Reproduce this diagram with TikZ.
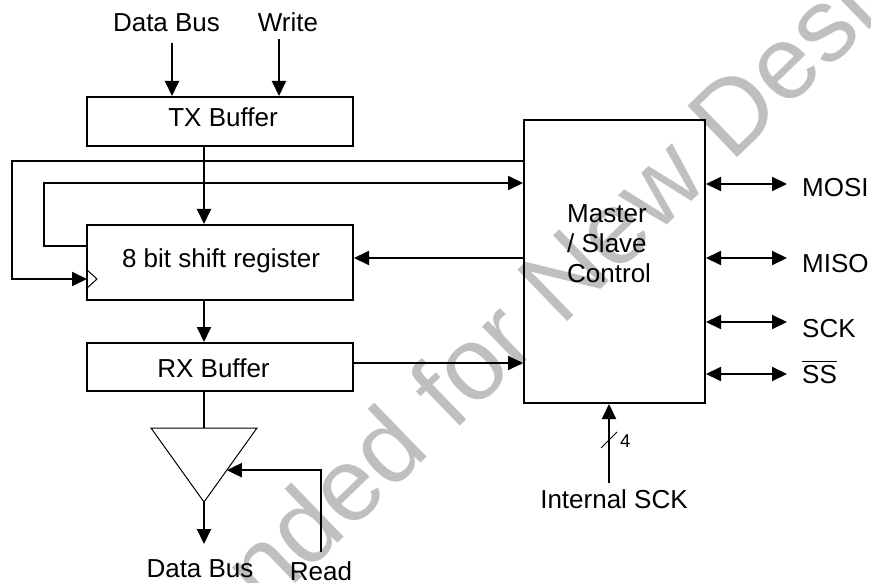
\documentclass[tikz,border=0pt]{standalone}
\usepackage{fontspec}
\setmainfont{Liberation Sans}
\usetikzlibrary{arrows.meta,calc}
\newcommand\ovlbar[1]{\vbox{\hrule height 1.4bp\kern 2.5bp\hbox{#1}}}
\begin{document}
\begin{tikzpicture}[x=1bp,y=-1bp,
  box/.style={draw, line width=2bp, inner sep=0, minimum width=266bp},
  lbl/.style={inner sep=0, font=\fontsize{26bp}{30bp}\selectfont},
  small/.style={inner sep=0, font=\fontsize{18.6bp}{22bp}\selectfont},
  watermark/.style={inner sep=0, text=black!25, font=\fontsize{104bp}{110bp}\selectfont},
  ln/.style={line width=2bp},
  arr/.style={line width=2bp, -{Triangle[length=15bp,width=14bp]}},
  biarr/.style={line width=2bp, {Triangle[length=15bp,width=14bp]}-{Triangle[length=15bp,width=14bp]}},
  thinln/.style={line width=1bp}]
\useasboundingbox (0,0) rectangle (871,583);
\begin{scope}
  \clip (0,0) rectangle (871,583);
  \node[watermark, rotate=44, anchor=base west] (wmark) at (-75,942) {Recommended for New Designs};
\end{scope}

% boxes
\node[box, minimum height=49bp] (tx) at (220,121.5) {};
\node[box, minimum height=75bp] (sr) at (220,262.5) {};
\node[box, minimum height=48bp] (rx) at (220,367) {};
\node[draw, line width=2bp, inner sep=0, minimum width=181bp, minimum height=283bp] (ms) at (614.5,261.5) {};

% box texts
\node[lbl, anchor=base] (txt) at (223,127) {TX Buffer};
\node[lbl, anchor=base] (srt) at (221,267) {8 bit shift register};
\node[lbl, anchor=base] (rxt) at (213.5,377) {RX Buffer};
\node[lbl, align=left, anchor=west] (mst) at (567,243.5) {Master\\/ Slave\\Control};

% outer labels
\node[lbl, anchor=base] (dbtop) at (166.5,32) {Data Bus};
\node[lbl, anchor=base] (wr) at (288,32) {Write};
\node[lbl, anchor=base] (dbbot) at (200,577) {Data Bus};
\node[lbl, anchor=base] (rd) at (321,580) {Read};
\node[lbl, anchor=base] (isckt) at (614,508.5) {Internal SCK};
\node[small, anchor=base west] (four) at (620,447) {4};
\node[lbl, anchor=base west] (mosi) at (802,197) {MOSI};
\node[lbl, anchor=base west] (miso) at (802,272) {MISO};
\node[lbl, anchor=base west] (sck) at (802,337) {SCK};
\node[lbl, anchor=base west] (ss) at (802,383) {\ovlbar{SS}};

% coordinates
\coordinate (col) at (204,0);
\coordinate (dbin) at (172,43);
\coordinate (wrin) at (279,39);
\coordinate (xo) at (12,0);
\coordinate (yo) at (0,161);
\coordinate (xi) at (44,0);
\coordinate (yi) at (0,183);
\coordinate (clk) at (87,279);
\coordinate (tl) at (151,428);
\coordinate (tr) at (257,428);
\coordinate (tb) at (204,502);
\coordinate (tritop) at (204,428);
\coordinate (dbout) at (204,544);
\coordinate (rdin) at (321,552);
\coordinate (isck) at (609,483);
\coordinate (pmosi) at (787,184);
\coordinate (pmiso) at (787,258);
\coordinate (psck) at (787,322);
\coordinate (pss) at (787,374);

% connectors
\draw[arr] (dbin) -- (dbin |- tx.north);
\draw[arr] (wrin) -- (wrin |- tx.north);
\draw[arr] (tx.south -| col) -- (sr.north -| col);
\draw[arr] (sr.south -| col) -- (rx.north -| col);
\draw[ln] (rx.south -| col) -- (tritop);
\draw[arr] (ms.west |- yo) -| (xo |- clk) -- (clk);
\draw[arr] (sr.west |- 0,246) -| (xi |- yi) -- (ms.west |- yi);
\draw[arr] (ms.west |- 0,258) -- (sr.east |- 0,258);
\draw[arr] (rx.east |- 0,363) -- (ms.west |- 0,363);

% clock input
\draw[thinln] (sr.west |- 0,269) -- (97,279) -- (sr.west |- 0,289);

% tristate buffer
\draw[thinln] (tl) -- (tr) -- (tb) -- cycle;
\draw[arr] (tb) -- (dbout);
\draw[arr] (rdin) |- ($(tr)!0.57!(tb)$);

% SPI pins
\draw[biarr] (ms.east |- pmosi) -- (pmosi);
\draw[biarr] (ms.east |- pmiso) -- (pmiso);
\draw[biarr] (ms.east |- psck) -- (psck);
\draw[biarr] (ms.east |- pss) -- (pss);

% internal SCK
\draw[arr] (isck) -- (isck |- ms.south);
\draw[thinln] (601,448) -- (617,432);
\end{tikzpicture}
\end{document}
